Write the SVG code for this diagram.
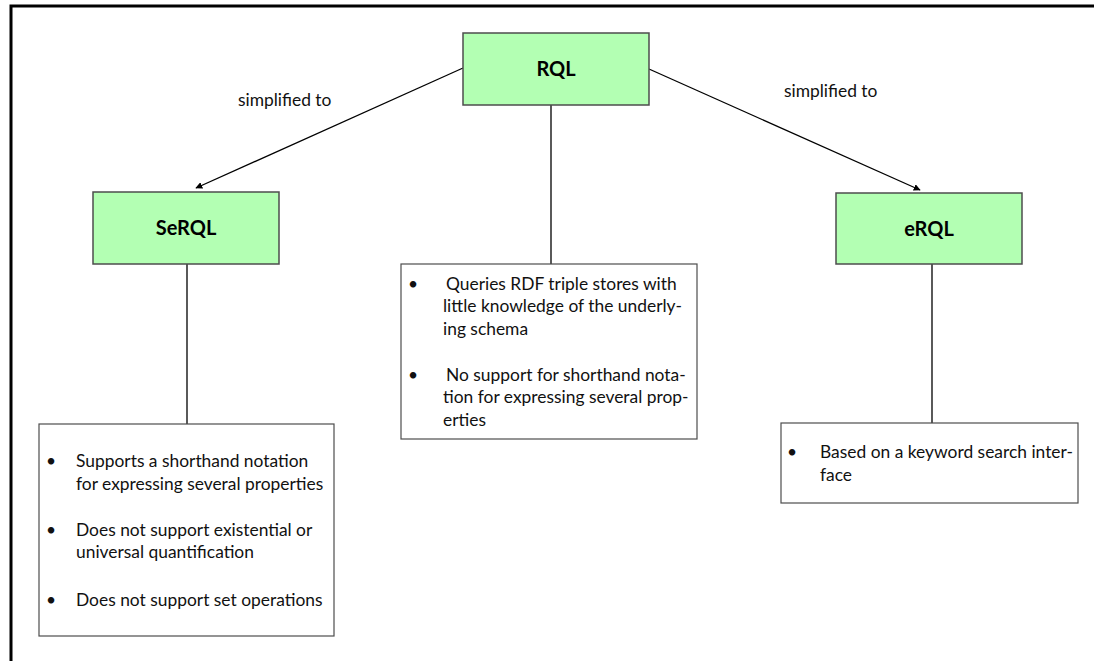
<svg xmlns="http://www.w3.org/2000/svg" width="1094" height="661" viewBox="0 0 1094 661">
  <style>
    .title { fill: #b3ffb3; stroke: #4d4d4d; stroke-width: 1.5; }
    .note { fill: #ffffff; stroke: #4d4d4d; stroke-width: 1.2; }
    .head { font-family: Lato, "Open Sans", sans-serif; font-weight: bold; font-size: 20px; fill: #000; text-anchor: middle; }
    .txt { font-family: Lato, "Open Sans", sans-serif; font-size: 17.4px; fill: #111; }
    .wire { stroke: #000; stroke-width: 1.3; fill: none; }
  </style>
  <defs>
    <marker id="arrow" viewBox="0 0 10 10" refX="9" refY="5" markerWidth="7" markerHeight="7" orient="auto" markerUnits="userSpaceOnUse">
      <path d="M0,0 L10,5 L0,10 z" fill="#000"/>
    </marker>
  </defs>

  <rect width="1094" height="661" fill="#ffffff"/>
  <!-- page frame -->
  <path d="M11,661 V6 H1094" fill="none" stroke="#000" stroke-width="3"/>

  <g id="connectors">
    <line class="wire" x1="463" y1="68" x2="196" y2="188" marker-end="url(#arrow)"/>
    <line class="wire" x1="649" y1="69" x2="920" y2="190" marker-end="url(#arrow)"/>
    <line class="wire" x1="551" y1="105" x2="551" y2="264"/>
    <line class="wire" x1="187" y1="264" x2="187" y2="424"/>
    <line class="wire" x1="932" y1="264" x2="932" y2="423"/>
    <text class="txt" x="238" y="106">simplified to</text>
    <text class="txt" x="784" y="97">simplified to</text>
  </g>

  <g id="rql">
    <rect class="title" x="463" y="33" width="186" height="72"/>
    <text class="head" x="556" y="76">RQL</text>
  </g>

  <g id="serql">
    <rect class="title" x="93" y="192" width="186" height="72"/>
    <text class="head" x="186" y="235">SeRQL</text>
  </g>

  <g id="erql">
    <rect class="title" x="836" y="193" width="186" height="71"/>
    <text class="head" x="929" y="236">eRQL</text>
  </g>

  <g id="serql-notes">
    <rect class="note" x="39" y="424" width="295" height="212"/>
    <text class="txt">
      <tspan x="46" y="467">•</tspan><tspan x="76" y="467">Supports a shorthand notation</tspan>
      <tspan x="76" y="490">for expressing several properties</tspan>
      <tspan x="46" y="536">•</tspan><tspan x="76" y="536">Does not support existential or</tspan>
      <tspan x="76" y="558">universal quantification</tspan>
      <tspan x="46" y="606">•</tspan><tspan x="76" y="606">Does not support set operations</tspan>
    </text>
  </g>

  <g id="rql-notes">
    <rect class="note" x="401" y="264" width="296" height="175"/>
    <text class="txt">
      <tspan x="408" y="290">•</tspan><tspan x="446" y="290">Queries RDF triple stores with</tspan>
      <tspan x="443" y="312">little knowledge of the underly-</tspan>
      <tspan x="443" y="335">ing schema</tspan>
      <tspan x="408" y="381">•</tspan><tspan x="446" y="381">No support for shorthand nota-</tspan>
      <tspan x="443" y="403">tion for expressing several prop-</tspan>
      <tspan x="443" y="426">erties</tspan>
    </text>
  </g>

  <g id="erql-notes">
    <rect class="note" x="781" y="423" width="297" height="80"/>
    <text class="txt">
      <tspan x="787" y="458">•</tspan><tspan x="820" y="458">Based on a keyword search inter-</tspan>
      <tspan x="820" y="481">face</tspan>
    </text>
  </g>
</svg>
